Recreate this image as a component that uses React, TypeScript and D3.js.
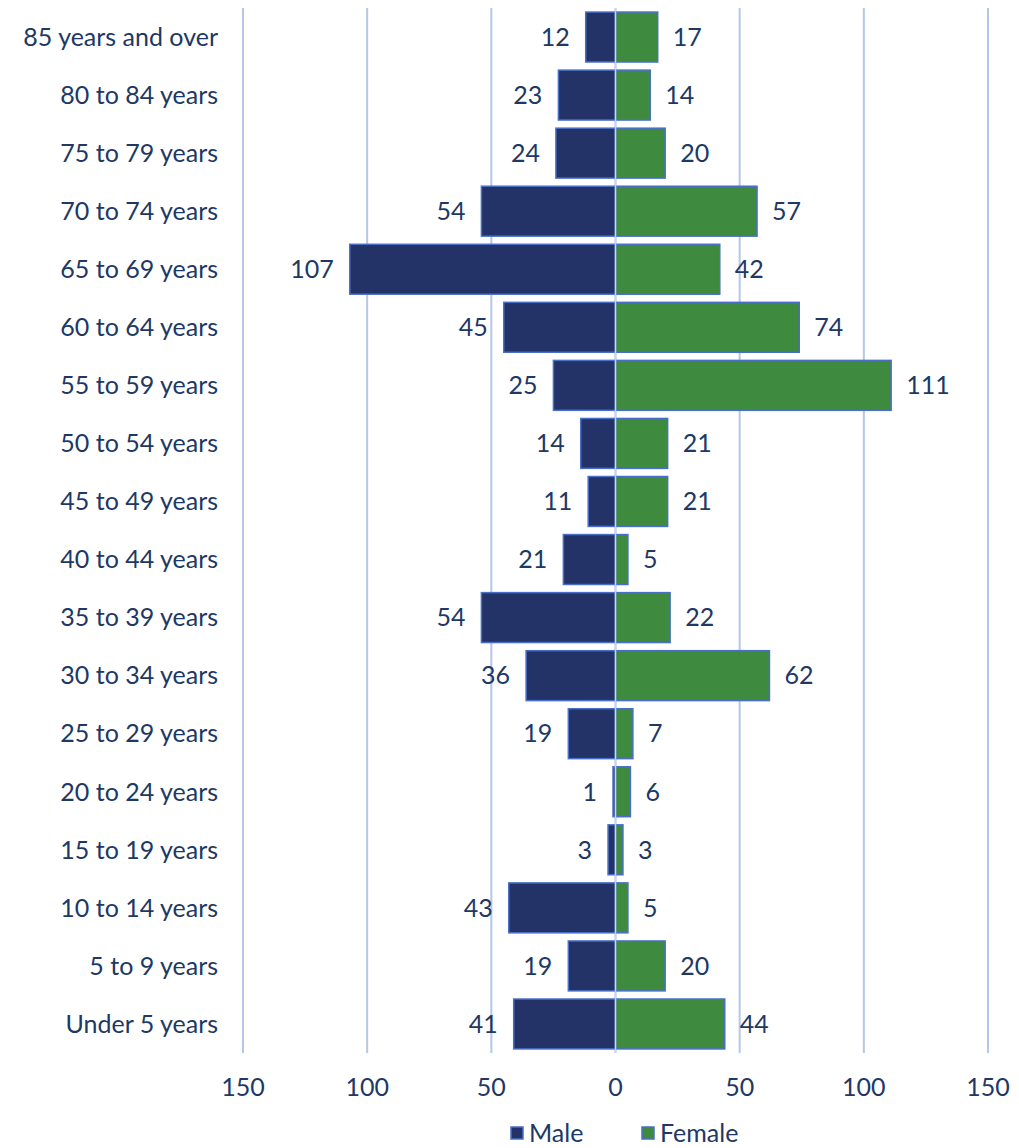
import * as d3 from "d3";

const ageGroups = [
  "85 years and over",
  "80 to 84 years",
  "75 to 79 years",
  "70 to 74 years",
  "65 to 69 years",
  "60 to 64 years",
  "55 to 59 years",
  "50 to 54 years",
  "45 to 49 years",
  "40 to 44 years",
  "35 to 39 years",
  "30 to 34 years",
  "25 to 29 years",
  "20 to 24 years",
  "15 to 19 years",
  "10 to 14 years",
  "5 to 9 years",
  "Under 5 years",
];
const male = [12, 23, 24, 54, 107, 45, 25, 14, 11, 21, 54, 36, 19, 1, 3, 43, 19, 41];
const female = [17, 14, 20, 57, 42, 74, 111, 21, 21, 5, 22, 62, 7, 6, 3, 5, 20, 44];
const ticks = [-150, -100, -50, 0, 50, 100, 150];

const W = 1019;
const H = 1148;
const TEXT = "#203864";
const FONT = "Lato, 'Open Sans', sans-serif";
const FS = 25;

const App = () => {
  const x = d3.scaleLinear().domain([-150, 150]).range([243, 988]);
  const y = d3
    .scaleBand()
    .domain(ageGroups)
    .range([8, 1053])
    .paddingInner(0.14)
    .paddingOuter(0.07);
  const bh = y.bandwidth();

  return (
    <svg
      width={W}
      height={H}
      style={{ position: "absolute", left: 0, top: 0, background: "#fff" }}
      fontFamily={FONT}
    >
      {/* gridlines */}
      {ticks.map((t) => (
        <line
          key={"g" + t}
          x1={x(t)}
          x2={x(t)}
          y1={8}
          y2={1053}
          stroke="#B4C7E7"
          strokeWidth={2}
        />
      ))}
      {/* bars */}
      {ageGroups.map((g, i) => {
        const yy = y(g) as number;
        return (
          <g key={g}>
            <rect
              x={x(-male[i])}
              y={yy}
              width={x(0) - x(-male[i])}
              height={bh}
              fill="#233367"
              stroke="#4A6FC8"
              strokeWidth={1.5}
            />
            <rect
              x={x(0)}
              y={yy}
              width={x(female[i]) - x(0)}
              height={bh}
              fill="#3E8A3E"
              stroke="#4A6FC8"
              strokeWidth={1.5}
            />
            <text
              x={x(-male[i]) - 16}
              y={yy + bh / 2}
              dy="0.35em"
              textAnchor="end"
              fontSize={FS}
              fill={TEXT}
            >
              {male[i]}
            </text>
            <text
              x={x(female[i]) + 15}
              y={yy + bh / 2}
              dy="0.35em"
              textAnchor="start"
              fontSize={FS}
              fill={TEXT}
            >
              {female[i]}
            </text>
            <text
              x={218}
              y={yy + bh / 2}
              dy="0.35em"
              textAnchor="end"
              fontSize={FS}
              fill={TEXT}
            >
              {g}
            </text>
          </g>
        );
      })}
      {/* zero line */}
      <line x1={x(0)} x2={x(0)} y1={8} y2={1053} stroke="#C9D6EE" strokeWidth={1.5} />
      {/* x tick labels */}
      {ticks.map((t) => (
        <text
          key={"t" + t}
          x={x(t)}
          y={1087}
          dy="0.35em"
          textAnchor="middle"
          fontSize={FS}
          fill={TEXT}
        >
          {Math.abs(t)}
        </text>
      ))}
      {/* legend */}
      <rect x={511} y={1127} width={12} height={12} fill="#233367" stroke="#4A6FC8" strokeWidth={1.5} />
      <text x={529} y={1133} dy="0.35em" fontSize={FS} fill={TEXT}>
        Male
      </text>
      <rect x={642} y={1127} width={12} height={12} fill="#3E8A3E" stroke="#4A6FC8" strokeWidth={1.5} />
      <text x={660} y={1133} dy="0.35em" fontSize={FS} fill={TEXT}>
        Female
      </text>
    </svg>
  );
};

export default App;
